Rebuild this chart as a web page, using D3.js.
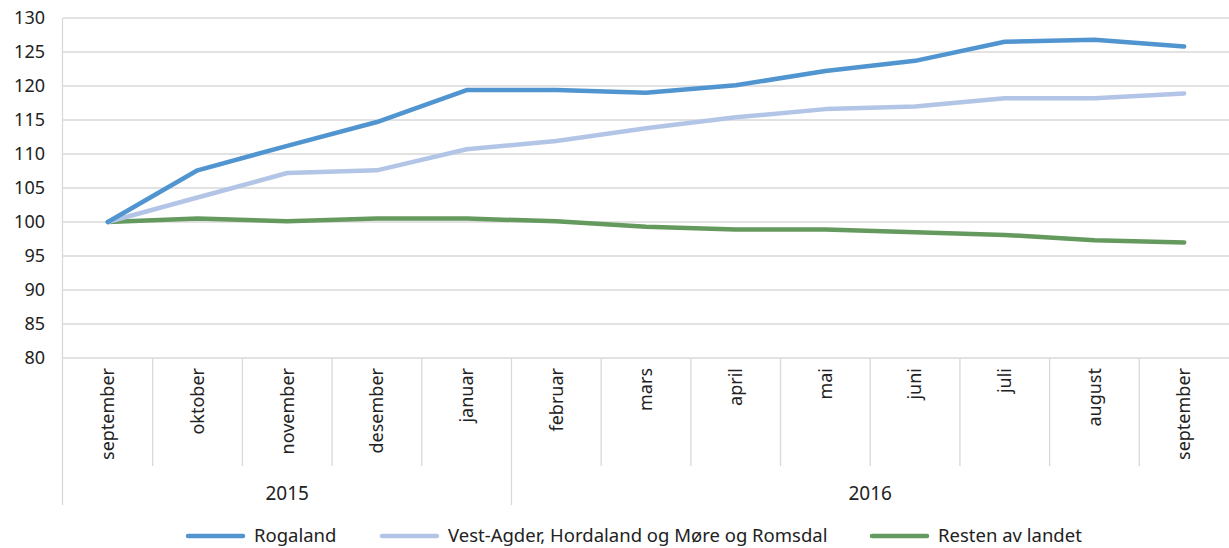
<!DOCTYPE html>
<html>
<head>
<meta charset="UTF-8">
<title>Prisindeks</title>
<script src="https://d3js.org/d3.v7.min.js"></script>
<style>
  body { margin: 0; background: #fff; }
  svg text { font-family: "Noto Sans", "DejaVu Sans", sans-serif; fill: #222; }
</style>
</head>
<body>
<div id="chart"></div>
<script>
const months = ["september", "oktober", "november", "desember", "januar", "februar", "mars",
                "april", "mai", "juni", "juli", "august", "september"];
const years = [
  { label: "2015", from: 0, to: 5 },
  { label: "2016", from: 5, to: 13 }
];
const rogaland = [100, 107.6, 111.2, 114.7, 119.4, 119.4, 119.0, 120.1, 122.2, 123.7, 126.5, 126.8, 125.8];
const vestland = [100, 103.6, 107.2, 107.6, 110.7, 111.9, 113.8, 115.4, 116.6, 117.0, 118.2, 118.2, 118.9];
const resten = [100, 100.5, 100.1, 100.5, 100.5, 100.1, 99.3, 98.9, 98.9, 98.5, 98.1, 97.3, 97.0];
const yTicks = [80, 85, 90, 95, 100, 105, 110, 115, 120, 125, 130];

const series = [
  { name: "Rogaland", values: rogaland, color: "#5195d0" },
  { name: "Vest-Agder, Hordaland og Møre og Romsdal", values: vestland, color: "#b3c5e6" },
  { name: "Resten av landet", values: resten, color: "#659a5e" }
];

const width = 1229, height = 548;
const plotLeft = 63, plotRight = 1229, plotTop = 18, plotBottom = 358;

const svg = d3.select("#chart").append("svg")
  .attr("width", width).attr("height", height);

const x = d3.scaleBand().domain(d3.range(months.length)).range([plotLeft, plotRight]);
const y = d3.scaleLinear().domain([80, 130]).range([plotBottom, plotTop]);

// gridlines
svg.append("g").selectAll("line")
  .data(yTicks)
  .join("line")
  .attr("x1", plotLeft).attr("x2", plotRight)
  .attr("y1", d => y(d)).attr("y2", d => y(d))
  .attr("stroke", "#d9d9d9").attr("stroke-width", 1.3);

// y labels
svg.append("g").selectAll("text")
  .data(yTicks)
  .join("text")
  .attr("x", 45).attr("y", d => y(d))
  .attr("dy", "0.35em")
  .attr("text-anchor", "end")
  .style("font-size", "18px")
  .text(d => d);

// left axis line
svg.append("line")
  .attr("x1", plotLeft - 0.5).attr("x2", plotLeft - 0.5)
  .attr("y1", plotTop).attr("y2", 505)
  .attr("stroke", "#d9d9d9").attr("stroke-width", 1.3);

// month dividers, longer where a new year starts
svg.append("g").selectAll("line")
  .data(d3.range(1, months.length))
  .join("line")
  .attr("x1", d => x(d)).attr("x2", d => x(d))
  .attr("y1", plotBottom).attr("y2", d => years.some(yr => yr.from === d) ? 505 : 466)
  .attr("stroke", "#d9d9d9").attr("stroke-width", 1.3);

// month labels
svg.append("g").selectAll("text")
  .data(months)
  .join("text")
  .attr("transform", (d, i) => `translate(${x(i) + x.bandwidth() / 2},${plotBottom + 10}) rotate(-90)`)
  .attr("dy", "0.35em")
  .attr("text-anchor", "end")
  .style("font-size", "18px")
  .text(d => d);

// year labels
svg.append("g").selectAll("text")
  .data(years)
  .join("text")
  .attr("x", d => (x(d.from) + (d.to < months.length ? x(d.to) : plotRight)) / 2)
  .attr("y", 500)
  .attr("text-anchor", "middle")
  .style("font-size", "19px")
  .text(d => d.label);

// lines
const line = d3.line()
  .x((d, i) => x(i) + x.bandwidth() / 2)
  .y(d => y(d));

svg.append("g").selectAll("path")
  .data(series.slice().reverse())
  .join("path")
  .attr("d", d => line(d.values))
  .attr("fill", "none")
  .attr("stroke", d => d.color)
  .attr("stroke-width", 4.5)
  .attr("stroke-linecap", "round")
  .attr("stroke-linejoin", "round");

// legend
const legendX = [188, 382, 872];
const legend = svg.append("g").selectAll("g")
  .data(series)
  .join("g")
  .attr("transform", (d, i) => `translate(${legendX[i]},536)`);
legend.append("line")
  .attr("x1", 0).attr("x2", 55)
  .attr("stroke", d => d.color)
  .attr("stroke-width", 4.5)
  .attr("stroke-linecap", "round");
legend.append("text")
  .attr("x", 66).attr("dy", "0.35em")
  .style("font-size", "18.5px")
  .text(d => d.name);
</script>
</body>
</html>
